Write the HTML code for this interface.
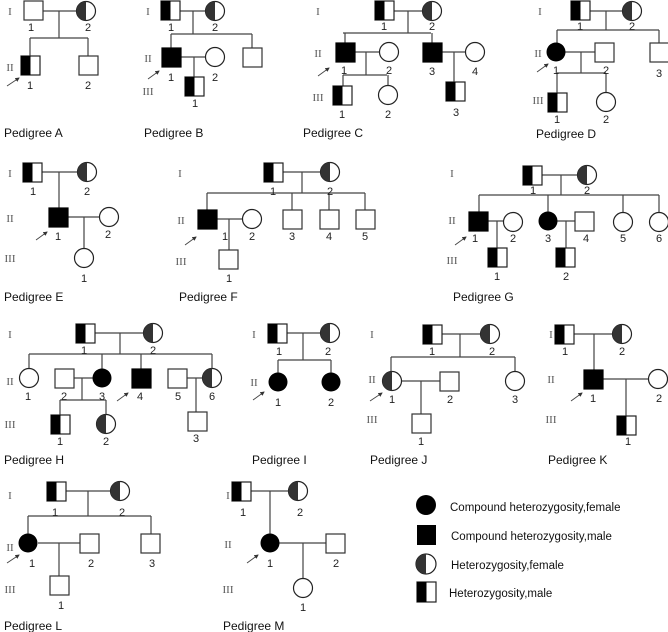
<!DOCTYPE html>
<html><head><meta charset="utf-8"><style>
html,body{margin:0;padding:0;background:#fff}
svg{display:block}
.n{font-family:"Liberation Sans",sans-serif;font-size:11px;fill:#222;text-anchor:middle}
.r{font-family:"Liberation Serif",serif;font-size:11px;fill:#555;text-anchor:middle}
.p{font-family:"Liberation Sans",sans-serif;font-size:12px;fill:#111}
.l{font-family:"Liberation Sans",sans-serif;font-size:11.5px;fill:#111}
</style></head><body>
<svg width="668" height="632" viewBox="0 0 668 632" xmlns="http://www.w3.org/2000/svg">
<defs>
<rect id="s" width="19" height="19" fill="#fff" stroke="#333" stroke-width="1.2"/>
<rect id="sf" width="19" height="19" fill="#000" stroke="#000" stroke-width="1.2"/>
<g id="sh"><rect width="19" height="19" fill="#fff" stroke="#222" stroke-width="1.2"/><rect width="9.5" height="19" fill="#000"/></g>
<circle id="c" r="9.5" fill="#fff" stroke="#222" stroke-width="1.2"/>
<circle id="cf" r="9.5" fill="#000"/>
<g id="ch"><circle r="9.5" fill="#fff" stroke="#222" stroke-width="1.2"/><path d="M0,-9.5A9.5,9.5 0 0 0 0,9.5Z" fill="#333"/></g>
<marker id="ar" markerWidth="5" markerHeight="5" refX="4" refY="2.5" orient="auto"><path d="M0,0L5,2.5L0,5Z" fill="#333"/></marker>
</defs>
<g stroke="#444" stroke-width="1.2" fill="none">
<!-- A -->
<path d="M42,11H77M59,11V38M30,38H88M30,38V56M88,38V56"/>
<!-- B -->
<path d="M180,11H206M193,11V34M171,34H252M171,34V48M252,34V48M180,57H206M194,57V77"/>
<!-- C -->
<path d="M393,11H423M408,11V33M343,33H431M345,33V43M432,33V43M353,52H380M366,52V75M343,75H387M343,75V86M388,75V86M441,52H466M454,52V82"/>
<!-- D -->
<path d="M589,11H623M606,11V30M557,30H659M557,30V43M659,30V43M565,52H595M581,52V73M557,73H606M557,73V93M606,73V93"/>
<!-- E -->
<path d="M42,172H78M59,172V208M68,217H100M84,217V248"/>
<!-- F -->
<path d="M283,172H321M302,172V193M207,193H365M207,193V210M292,193V210M329,193V210M365,193V210M217,219H243M229,219V250"/>
<!-- G -->
<path d="M541,175H578M561,175V195M479,195H659M479,195V212M548,195V212M623,195V212M659,195V212M488,221H504M497,221V248M557,221H575M566,221V248"/>
<!-- H -->
<path d="M95,333H144M120,333V354M29,354H212M29,354V369M102,354V369M141,354V369M212,354V369M74,378H93M82,378V400M60,400H106M60,400V415M106,400V415M187,378H203M196,378V412"/>
<!-- I -->
<path d="M287,333H321M303,333V360M278,360H331M278,360V373M331,360V373"/>
<!-- J -->
<path d="M442,334H481M460,334V357M391,357H515M391,357V372M515,357V372M401,381H440M421,381V414"/>
<!-- K -->
<path d="M574,334H613M594,334V370M603,379H649M626,379V416"/>
<!-- L -->
<path d="M66,491H111M88,491V516M28,516H151M28,516V534M151,516V534M38,543H80M59,543V576"/>
<!-- M -->
<path d="M251,491H289M270,491V534M279,543H326M303,543V579"/>
<!-- arrows -->
<g stroke-width="0.9" marker-end="url(#ar)">
<path d="M7,86L19,78"/><path d="M148,79L159,71"/><path d="M318,76L329,68"/><path d="M537,72L548,64"/>
<path d="M36,240L47,232"/><path d="M185,245L196,237"/><path d="M455,245L466,237"/>
<path d="M117,401L128,393"/><path d="M253,400L264,392"/><path d="M370,401L382,393"/><path d="M571,401L582,393"/>
<path d="M7,563L19,555"/><path d="M247,563L258,555"/>
</g>
</g>
<!-- shapes -->
<use href="#s" x="24" y="1"/><use href="#ch" x="86" y="11"/><use href="#sh" x="21" y="56"/><use href="#s" x="79" y="56"/>
<use href="#sh" x="161" y="1"/><use href="#ch" x="215" y="11"/><use href="#sf" x="162" y="48"/><use href="#c" x="215" y="57"/><use href="#sh" x="185" y="77"/><use href="#s" x="243" y="48"/>
<use href="#sh" x="375" y="1"/><use href="#ch" x="432" y="11"/><use href="#sf" x="336" y="43"/><use href="#c" x="389" y="52"/><use href="#sh" x="333" y="86"/><use href="#c" x="388" y="95"/><use href="#sf" x="423" y="43"/><use href="#c" x="475" y="52"/><use href="#sh" x="446" y="82"/>
<use href="#sh" x="571" y="1"/><use href="#ch" x="632" y="11"/><use href="#cf" x="556" y="52"/><use href="#s" x="595" y="43"/><use href="#sh" x="548" y="93"/><use href="#c" x="606" y="102"/><use href="#s" x="650" y="43"/>
<use href="#sh" x="23" y="163"/><use href="#ch" x="87" y="172"/><use href="#sf" x="49" y="208"/><use href="#c" x="109" y="217"/><use href="#c" x="84" y="258"/>
<use href="#sh" x="264" y="163"/><use href="#ch" x="330" y="172"/><use href="#sf" x="198" y="210"/><use href="#c" x="252" y="219"/><use href="#s" x="219" y="250"/><use href="#s" x="283" y="210"/><use href="#s" x="320" y="210"/><use href="#s" x="356" y="210"/>
<use href="#sh" x="523" y="166"/><use href="#ch" x="587" y="175"/><use href="#sf" x="469" y="212"/><use href="#c" x="513" y="222"/><use href="#sh" x="488" y="248"/><use href="#cf" x="548" y="221"/><use href="#s" x="575" y="212"/><use href="#sh" x="556" y="248"/><use href="#c" x="623" y="222"/><use href="#c" x="659" y="222"/>
<use href="#sh" x="76" y="324"/><use href="#ch" x="153" y="333"/><use href="#c" x="29" y="378"/><use href="#s" x="55" y="369"/><use href="#cf" x="102" y="378"/><use href="#sh" x="51" y="415"/><use href="#ch" x="106" y="424"/><use href="#sf" x="132" y="369"/><use href="#s" x="168" y="369"/><use href="#ch" x="212" y="378"/><use href="#s" x="188" y="412"/>
<use href="#sh" x="268" y="324"/><use href="#ch" x="330" y="333"/><use href="#cf" x="278" y="382"/><use href="#cf" x="331" y="382"/>
<use href="#sh" x="423" y="325"/><use href="#ch" x="490" y="334"/><use href="#ch" x="392" y="381"/><use href="#s" x="440" y="372"/><use href="#s" x="412" y="414"/><use href="#c" x="515" y="381"/>
<use href="#sh" x="555" y="325"/><use href="#ch" x="622" y="334"/><use href="#sf" x="584" y="370"/><use href="#c" x="658" y="379"/><use href="#sh" x="617" y="416"/>
<use href="#sh" x="47" y="482"/><use href="#ch" x="120" y="491"/><use href="#cf" x="28" y="543"/><use href="#s" x="80" y="534"/><use href="#s" x="50" y="576"/><use href="#s" x="141" y="534"/>
<use href="#sh" x="232" y="482"/><use href="#ch" x="298" y="491"/><use href="#cf" x="270" y="543"/><use href="#s" x="326" y="534"/><use href="#c" x="303" y="588"/>
<!-- legend -->
<circle cx="426" cy="505" r="10" fill="#000"/>
<rect x="417" y="525" width="19" height="20" fill="#000"/>
<g transform="translate(426,564)"><circle r="10" fill="#fff" stroke="#222" stroke-width="1.2"/><path d="M0,-10A10,10 0 0 0 0,10Z" fill="#333"/></g>
<rect x="417" y="582" width="19" height="20" fill="#fff" stroke="#222" stroke-width="1.2"/><rect x="417" y="582" width="9.5" height="20" fill="#000"/>
<text class="l" x="450" y="511">Compound heterozygosity,female</text>
<text class="l" x="451" y="540">Compound heterozygosity,male</text>
<text class="l" x="451" y="569">Heterozygosity,female</text>
<text class="l" x="449" y="597">Heterozygosity,male</text>
<!-- roman -->
<text class="r" x="10" y="15">I</text><text class="r" x="10" y="71">II</text>
<text class="r" x="148" y="15">I</text><text class="r" x="148" y="62">II</text><text class="r" x="148" y="95">III</text>
<text class="r" x="318" y="15">I</text><text class="r" x="318" y="57">II</text><text class="r" x="318" y="101">III</text>
<text class="r" x="540" y="15">I</text><text class="r" x="538" y="57">II</text><text class="r" x="538" y="104">III</text>
<text class="r" x="10" y="177">I</text><text class="r" x="10" y="222">II</text><text class="r" x="10" y="262">III</text>
<text class="r" x="180" y="177">I</text><text class="r" x="181" y="224">II</text><text class="r" x="181" y="265">III</text>
<text class="r" x="452" y="177">I</text><text class="r" x="452" y="224">II</text><text class="r" x="452" y="264">III</text>
<text class="r" x="10" y="338">I</text><text class="r" x="10" y="385">II</text><text class="r" x="10" y="428">III</text>
<text class="r" x="254" y="338">I</text><text class="r" x="254" y="386">II</text>
<text class="r" x="372" y="338">I</text><text class="r" x="372" y="383">II</text><text class="r" x="372" y="423">III</text>
<text class="r" x="551" y="338">I</text><text class="r" x="551" y="383">II</text><text class="r" x="551" y="423">III</text>
<text class="r" x="10" y="499">I</text><text class="r" x="10" y="551">II</text><text class="r" x="10" y="593">III</text>
<text class="r" x="228" y="499">I</text><text class="r" x="228" y="548">II</text><text class="r" x="228" y="593">III</text>
<!-- numbers -->
<text class="n" x="31" y="31">1</text><text class="n" x="88" y="31">2</text><text class="n" x="30" y="89">1</text><text class="n" x="88" y="89">2</text>
<text class="n" x="171" y="31">1</text><text class="n" x="215" y="31">2</text><text class="n" x="171" y="81">1</text><text class="n" x="215" y="81">2</text><text class="n" x="195" y="107">1</text>
<text class="n" x="384" y="30">1</text><text class="n" x="432" y="30">2</text><text class="n" x="344" y="74">1</text><text class="n" x="389" y="74">2</text><text class="n" x="432" y="75">3</text><text class="n" x="475" y="75">4</text><text class="n" x="342" y="118">1</text><text class="n" x="388" y="118">2</text><text class="n" x="456" y="116">3</text>
<text class="n" x="580" y="30">1</text><text class="n" x="632" y="30">2</text><text class="n" x="556" y="74">1</text><text class="n" x="606" y="74">2</text><text class="n" x="659" y="77">3</text><text class="n" x="557" y="123">1</text><text class="n" x="606" y="123">2</text>
<text class="n" x="33" y="195">1</text><text class="n" x="87" y="195">2</text><text class="n" x="58" y="240">1</text><text class="n" x="108" y="238">2</text><text class="n" x="84" y="282">1</text>
<text class="n" x="273" y="195">1</text><text class="n" x="330" y="195">2</text><text class="n" x="225" y="240">1</text><text class="n" x="252" y="240">2</text><text class="n" x="292" y="240">3</text><text class="n" x="329" y="240">4</text><text class="n" x="365" y="240">5</text><text class="n" x="229" y="282">1</text>
<text class="n" x="533" y="194">1</text><text class="n" x="587" y="194">2</text><text class="n" x="475" y="242">1</text><text class="n" x="513" y="242">2</text><text class="n" x="548" y="242">3</text><text class="n" x="586" y="242">4</text><text class="n" x="623" y="242">5</text><text class="n" x="659" y="242">6</text><text class="n" x="497" y="280">1</text><text class="n" x="566" y="280">2</text>
<text class="n" x="84" y="354">1</text><text class="n" x="153" y="354">2</text><text class="n" x="28" y="400">1</text><text class="n" x="64" y="400">2</text><text class="n" x="102" y="400">3</text><text class="n" x="140" y="400">4</text><text class="n" x="178" y="400">5</text><text class="n" x="212" y="400">6</text><text class="n" x="60" y="445">1</text><text class="n" x="106" y="445">2</text><text class="n" x="196" y="442">3</text>
<text class="n" x="279" y="355">1</text><text class="n" x="328" y="355">2</text><text class="n" x="278" y="406">1</text><text class="n" x="331" y="406">2</text>
<text class="n" x="432" y="355">1</text><text class="n" x="492" y="355">2</text><text class="n" x="392" y="403">1</text><text class="n" x="450" y="403">2</text><text class="n" x="515" y="403">3</text><text class="n" x="421" y="445">1</text>
<text class="n" x="565" y="355">1</text><text class="n" x="622" y="355">2</text><text class="n" x="593" y="402">1</text><text class="n" x="659" y="402">2</text><text class="n" x="628" y="445">1</text>
<text class="n" x="55" y="516">1</text><text class="n" x="122" y="516">2</text><text class="n" x="32" y="567">1</text><text class="n" x="91" y="567">2</text><text class="n" x="152" y="567">3</text><text class="n" x="61" y="609">1</text>
<text class="n" x="243" y="516">1</text><text class="n" x="300" y="516">2</text><text class="n" x="270" y="567">1</text><text class="n" x="336" y="567">2</text><text class="n" x="303" y="611">1</text>
<!-- pedigree labels -->
<text class="p" x="4" y="137">Pedigree A</text>
<text class="p" x="144" y="137">Pedigree B</text>
<text class="p" x="303" y="137">Pedigree C</text>
<text class="p" x="536" y="138">Pedigree D</text>
<text class="p" x="4" y="301">Pedigree E</text>
<text class="p" x="179" y="301">Pedigree F</text>
<text class="p" x="453" y="301">Pedigree G</text>
<text class="p" x="4" y="464">Pedigree H</text>
<text class="p" x="252" y="464">Pedigree I</text>
<text class="p" x="370" y="464">Pedigree J</text>
<text class="p" x="548" y="464">Pedigree K</text>
<text class="p" x="4" y="630">Pedigree L</text>
<text class="p" x="223" y="630">Pedigree M</text>
</svg>
</body></html>
